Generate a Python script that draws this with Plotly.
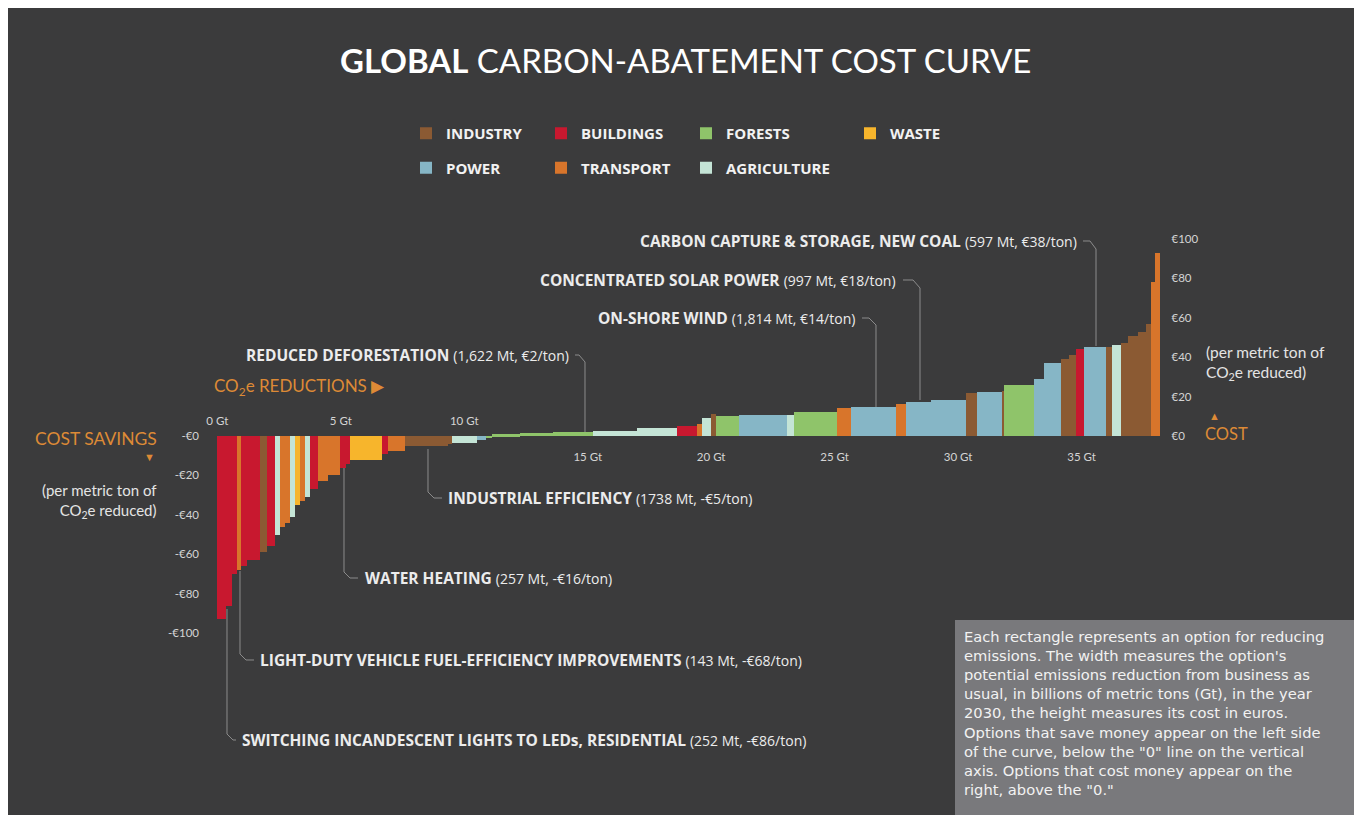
import numpy as np
import plotly.graph_objects as go

# page body has an 8px margin; the figure fills the rest of the 1362x815 window
OFF = 8
W, H = 1362 - OFF, 815 - OFF

# ---------------- data ----------------
sector_names = ["INDUSTRY", "POWER", "BUILDINGS", "TRANSPORT", "FORESTS", "AGRICULTURE", "WASTE"]
sector_codes = ["I", "P", "B", "T", "F", "A", "W"]
sector_colors = ["#8b5a33", "#86b6c6", "#c8182f", "#d8752b", "#8fc46a", "#c4e4d6", "#f7b52c"]
sector_legend = ["legend", "legend", "legend2", "legend2", "legend3", "legend3", "legend4"]

# abatement potential (Gt CO2e) of each option, left to right
widths_gt = [0.36, 0.252, 0.20, 0.143, 0.26, 0.53, 0.28, 0.32, 0.20, 0.20,
             0.20, 0.20, 0.20, 0.20, 0.20, 0.32, 0.40, 0.49, 0.257, 0.15,
             1.30, 0.24, 0.69, 1.738, 0.16, 1.01, 0.40, 0.24,
             1.10, 1.34, 1.622, 1.78, 1.62, 0.81, 0.20, 0.40, 0.20, 0.93,
             1.94, 0.28, 1.74, 0.57, 1.814, 0.40, 0.997, 1.44, 0.45, 1.01,
             0.08, 1.21, 0.40, 0.69, 0.32, 0.28, 0.32, 0.597, 0.30, 0.24,
             0.36, 0.32, 0.40, 0.32, 0.20, 0.16, 0.20]
# cost (EUR per ton CO2e)
costs = [-93, -86, -70, -68, -66, -63, -59, -56, -50, -46,
         -44, -41, -35, -33, -31, -27, -23, -20, -16, -14,
         -12, -9, -7.5, -5, -4, -3.5, -2, -1,
         0.8, 1.3, 2, 2.5, 4, 5, 6, 9, 11, 10,
         10.5, 10.5, 12, 14, 14.5, 16, 17.5, 18.5, 22, 22.5,
         23, 26, 29, 37, 39, 41, 44, 45, 45, 45,
         46, 47, 51, 53, 57, 78, 93]
sectors = ["B", "B", "B", "T", "B", "B", "I", "B", "A", "T",
           "T", "A", "W", "T", "A", "B", "T", "T", "B", "B",
           "W", "B", "T", "I", "I", "A", "P", "F",
           "F", "F", "F", "A", "A", "B", "T", "A", "I", "F",
           "P", "A", "F", "T", "P", "T", "P", "P", "I", "P",
           "I", "F", "P", "P", "I", "I", "B", "P", "P", "I",
           "A", "I", "I", "I", "I", "T", "T"]

x_tick_low = [0, 5, 10]
x_tick_high = [15, 20, 25, 30, 35]
y_ticks_neg = [0, -20, -40, -60, -80, -100]
y_ticks_pos = [0, 20, 40, 60, 80, 100]

box_lines = [
    "Each rectangle represents an option for reducing",
    "emissions. The width measures the option's",
    "potential emissions reduction from business as",
    "usual, in billions of metric tons (Gt), in the year",
    "2030, the height measures its cost in euros.",
    "Options that save money appear on the left side",
    "of the curve, below the \"0\" line on the vertical",
    "axis. Options that cost money appear on the",
    "right, above the \"0.\"",
]

# ---------------- helpers (screen pixel -> paper) ----------------
def px(x):
    return (x - OFF) / W

def py(y):
    return 1 - (y - OFF) / H

widths = np.array(widths_gt)
starts = np.concatenate([[0.0], np.cumsum(widths)[:-1]])
mids = starts + widths / 2
costs_a = np.array(costs)
sec_a = np.array(sectors)

BG = "#3b3b3c"
ORANGE = "#dd8a36"
TXT = "#ececec"
FONT = "Lato"
FONT2 = "Open Sans"

fig = go.Figure()
for name, code, col, lg in zip(sector_names, sector_codes, sector_colors, sector_legend):
    m = sec_a == code
    fig.add_trace(go.Bar(
        x=mids[m], y=costs_a[m], width=widths[m], base=0,
        marker=dict(color=col, line=dict(width=0)),
        name=name, legend=lg, legendgroup=name,
        xaxis="x", yaxis="y", hoverinfo="skip",
    ))

# ---------------- axes ----------------
x_dom = [px(205), px(1165.5)]
y_dom = [py(643), py(233)]
zero_pos = py(436)
tickfont = dict(family=FONT, size=11.5, color="#d4d4d4")

fig.update_layout(
    xaxis=dict(domain=x_dom, range=[-0.5, 38.4], anchor="free", position=zero_pos,
               side="bottom", tickvals=x_tick_high, ticktext=[f"{v} Gt" for v in x_tick_high],
               showgrid=False, zeroline=False, showline=False, ticks="",
               ticklabelstandoff=12, tickfont=tickfont, fixedrange=True),
    xaxis2=dict(domain=x_dom, overlaying="x", matches="x", anchor="free", position=zero_pos,
                side="top", tickvals=x_tick_low, ticktext=[f"{v} Gt" for v in x_tick_low],
                showgrid=False, zeroline=False, showline=False, ticks="",
                ticklabelstandoff=9, tickfont=tickfont),
    yaxis=dict(domain=y_dom, range=[-105, 103], anchor="x", side="left",
               tickvals=y_ticks_neg, ticktext=[f"-€{abs(v)}" for v in y_ticks_neg],
               showgrid=False, zeroline=False, showline=False, ticks="",
               ticklabelstandoff=5, tickfont=tickfont),
    yaxis2=dict(domain=y_dom, overlaying="y", matches="y", anchor="x", side="right",
                tickvals=y_ticks_pos, ticktext=[f"€{v}" for v in y_ticks_pos],
                showgrid=False, zeroline=False, showline=False, ticks="",
                ticklabelstandoff=5, tickfont=tickfont),
)
fig.add_trace(go.Scatter(x=[0], y=[0], xaxis="x2", yaxis="y2", mode="markers",
                         marker=dict(opacity=0), showlegend=False, hoverinfo="skip"))

# ---------------- legends ----------------
leg_common = dict(orientation="v", bgcolor="rgba(0,0,0,0)", borderwidth=0,
                  font=dict(family=FONT2, size=15, color="#f2f2f2", weight=700),
                  tracegroupgap=12, xanchor="left", yanchor="top", itemclick=False,
                  itemdoubleclick=False)
leg_y = py(117)
fig.update_layout(
    legend=dict(x=px(406), y=leg_y, **leg_common),
    legend2=dict(x=px(541), y=leg_y, **leg_common),
    legend3=dict(x=px(686), y=leg_y, **leg_common),
    legend4=dict(x=px(850), y=leg_y, **leg_common),
)

# ---------------- shapes ----------------
shapes = []
shapes.append(dict(type="rect", xref="paper", yref="paper", x0=px(955), x1=1, y0=0, y1=py(620),
                   fillcolor="#79797c", line=dict(width=0), layer="below"))

def leader(points):
    d = "M " + " L ".join(f"{px(x):.5f},{py(y):.5f}" for x, y in points)
    return dict(type="path", xref="paper", yref="paper", path=d,
                line=dict(color="#8c8c8c", width=1))

shapes += [
    leader([(1083, 241), (1090, 241), (1096, 249), (1096, 346)]),
    leader([(903, 280), (913, 280), (920, 288), (920, 400)]),
    leader([(862, 318), (869, 318), (876, 325), (876, 407)]),
    leader([(575, 355), (579, 355), (585, 362), (585, 432)]),
    leader([(428, 449), (428, 492), (434, 498), (442, 498)]),
    leader([(344, 468), (344, 572), (350, 578), (358, 578)]),
    leader([(240, 571), (240, 654), (246, 660), (254, 660)]),
    leader([(227, 609), (227, 734), (233, 740), (236, 740)]),
]
fig.update_layout(shapes=shapes)

# ---------------- annotations ----------------
ann = []
def label(x, y, text, xanchor="left", size=12.5, color=TXT, align="left", yanchor="middle",
          family=FONT, pad=1):
    ann.append(dict(x=px(x), y=py(y), xref="paper", yref="paper", text=text,
                    showarrow=False, xanchor=xanchor, yanchor=yanchor, align=align,
                    borderpad=pad,
                    font=dict(family=family, size=size, color=color)))

def callout(name, detail):
    return f"<b>{name}</b> <span style='font-size:14px'>{detail}</span>"

label(685, 60, "<b>GLOBAL</b> CARBON-ABATEMENT COST CURVE", xanchor="center", size=33,
      color="#ffffff")

cs = 15.5
label(1079, 241, callout("CARBON CAPTURE &amp; STORAGE, NEW COAL", "(597 Mt, €38/ton)"),
      xanchor="right", size=cs, family=FONT2)
label(898, 280, callout("CONCENTRATED SOLAR POWER", "(997 Mt, €18/ton)"),
      xanchor="right", size=cs, family=FONT2)
label(857, 318, callout("ON-SHORE WIND", "(1,814 Mt, €14/ton)"),
      xanchor="right", size=cs, family=FONT2)
label(571, 355, callout("REDUCED DEFORESTATION", "(1,622 Mt, €2/ton)"),
      xanchor="right", size=cs, family=FONT2)
label(446, 498, callout("INDUSTRIAL EFFICIENCY", "(1738 Mt, -€5/ton)"), size=cs, family=FONT2)
label(363, 578, callout("WATER HEATING", "(257 Mt, -€16/ton)"), size=cs, family=FONT2)
label(258, 660, callout("LIGHT-DUTY VEHICLE FUEL-EFFICIENCY IMPROVEMENTS", "(143 Mt, -€68/ton)"),
      size=cs, family=FONT2)
label(240, 740, callout("SWITCHING INCANDESCENT LIGHTS TO LEDs, RESIDENTIAL", "(252 Mt, -€86/ton)"),
      size=cs, family=FONT2)

label(212, 387, "CO<sub>2</sub>e REDUCTIONS ▶", size=17, color=ORANGE)
label(159, 438, "COST SAVINGS", xanchor="right", size=17.5, color=ORANGE)
label(149, 456, "▼", xanchor="center", size=11, color=ORANGE)
label(159, 501, "(per metric ton of<br>CO<sub>2</sub>e reduced)", xanchor="right", align="right",
      size=15, color="#e4e4e4")
label(1204, 363, "(per metric ton of<br>CO<sub>2</sub>e reduced)", size=15.5, color="#e4e4e4")
label(1214, 415, "▲", xanchor="center", size=11, color=ORANGE)
label(1203, 434, "COST", size=16.5, color=ORANGE)

label(963, 627, "<br>".join(box_lines), size=14.7, color="#f2f2f2", family="DejaVu Sans",
      yanchor="top", pad=0)

fig.update_layout(annotations=ann)

fig.update_layout(
    width=W, height=H, autosize=False,
    margin=dict(l=0, r=0, t=0, b=0),
    paper_bgcolor=BG, plot_bgcolor=BG,
    barmode="overlay", bargap=0,
    font=dict(family=FONT, color=TXT),
    showlegend=True,
)

fig.write_html("out.html")
